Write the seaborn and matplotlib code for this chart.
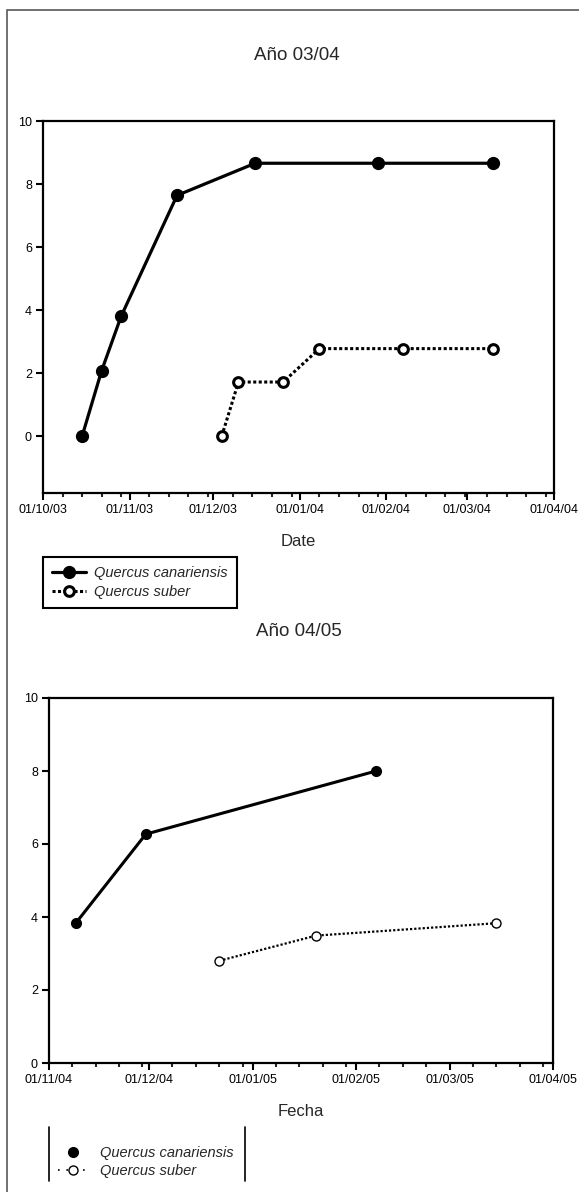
import seaborn as sns
import matplotlib.pyplot as plt
import matplotlib.dates as mdates
from matplotlib.lines import Line2D
from matplotlib.patches import Rectangle
import numpy as np
import pandas as pd

# --- data ---
# Año 03/04
can_0304_dates = ['2003-10-15', '2003-10-22', '2003-10-29', '2003-11-18',
                  '2003-12-16', '2004-01-29', '2004-03-10']
can_0304_vals = [0.0, 2.08, 3.81, 7.64, 8.66, 8.66, 8.66]
sub_0304_dates = ['2003-12-04', '2003-12-10', '2003-12-26', '2004-01-08',
                  '2004-02-07', '2004-03-10']
sub_0304_vals = [0.0, 1.72, 1.72, 2.78, 2.78, 2.78]

# Año 04/05
can_0405_dates = ['2004-11-09', '2004-11-30', '2005-02-07']
can_0405_vals = [3.83, 6.27, 8.0]
sub_0405_dates = ['2004-12-22', '2005-01-20', '2005-03-15']
sub_0405_vals = [2.8, 3.49, 3.83]

species = ['Quercus canariensis', 'Quercus suber']
titles = ['Año 03/04', 'Año 04/05']
xlabels = ['Date', 'Fecha']

sns.set_style('ticks')
plt.rcParams['font.family'] = ['Liberation Sans', 'DejaVu Sans']

W, H = 579, 1192
fig = plt.figure(figsize=(W / 100, H / 100), dpi=100)

def fx(px):
    return px / W

def fy(py):
    return 1 - py / H

ax1 = fig.add_axes([fx(43), fy(493), fx(554 - 43), (493 - 121) / H])
ax2 = fig.add_axes([fx(49), fy(1063), fx(553 - 49), (1063 - 698) / H])

# top panel
sns.lineplot(x=pd.to_datetime(can_0304_dates), y=can_0304_vals, ax=ax1,
             color='black', lw=2.3, marker='o', ms=8.5, mec='black', mew=1)
sns.lineplot(x=pd.to_datetime(sub_0304_dates), y=sub_0304_vals, ax=ax1,
             color='black', lw=2.2, ls=(0, (1, 0.8)), marker='o', ms=7,
             mfc='white', mec='black', mew=2.2)

# bottom panel
sns.lineplot(x=pd.to_datetime(can_0405_dates), y=can_0405_vals, ax=ax2,
             color='black', lw=2.2, marker='o', ms=7, mec='black', mew=1)
sns.lineplot(x=pd.to_datetime(sub_0405_dates), y=sub_0405_vals, ax=ax2,
             color='black', lw=1.6, ls=(0, (1, 0.9)), marker='o', ms=6.5,
             mfc='white', mec='black', mew=1)

ax1.set_xlim(pd.Timestamp('2003-10-01'), pd.Timestamp('2004-04-01'))
ax1.set_ylim(-1.8, 10)
ax2.set_xlim(pd.Timestamp('2004-11-01'), pd.Timestamp('2005-04-01'))
ax2.set_ylim(0, 10)

for ax in (ax1, ax2):
    ax.set_yticks(np.arange(0, 11, 2))
    ax.xaxis.set_major_locator(mdates.MonthLocator())
    ax.xaxis.set_major_formatter(mdates.DateFormatter('%d/%m/%y'))
    ax.xaxis.set_minor_locator(mdates.DayLocator(bymonthday=[8, 15, 22, 29]))
    ax.tick_params(axis='both', which='major', direction='out', length=5,
                   width=1.5, labelsize=9, colors='black', pad=3)
    ax.tick_params(axis='x', which='minor', direction='out', length=3, width=1.5)
    for s in ax.spines.values():
        s.set_visible(True)
        s.set_linewidth(1.6)
        s.set_color('black')
    ax.set_xlabel('')
    ax.set_ylabel('')

# titles and axis labels
fig.text(fx(297), fy(56), titles[0], ha='center', va='center', fontsize=13.5)
fig.text(fx(299), fy(631), titles[1], ha='center', va='center', fontsize=13.5)
fig.text(fx(298), fy(541), xlabels[0], ha='center', va='center', fontsize=12)
fig.text(fx(301), fy(1112), xlabels[1], ha='center', va='center', fontsize=12)

# legend, top panel
h_top = [Line2D([], [], color='black', lw=2.3, marker='o', ms=8.5),
         Line2D([], [], color='black', lw=2.2, ls=(0, (1, 0.8)), marker='o',
                ms=7, mfc='white', mew=2.2)]
leg1 = fig.legend(h_top, species, loc='upper left',
                  bbox_to_anchor=(fx(43), fy(557)), frameon=True,
                  fancybox=False, edgecolor='black', framealpha=1,
                  prop={'style': 'italic', 'size': 10.5},
                  handlelength=2.3, handletextpad=0.55, labelspacing=0.3,
                  borderpad=0.65, borderaxespad=0)
leg1.get_frame().set_linewidth(1.5)

# legend, bottom panel
h_bot = [Line2D([], [], color='black', lw=0, marker='o', ms=7),
         Line2D([], [], color='black', lw=1.2, ls=(0, (1, 4)), marker='o',
                ms=6.5, mfc='white', mew=1)]
fig.legend(h_bot, species, loc='upper left',
           bbox_to_anchor=(fx(58), fy(1146)), frameon=False,
           prop={'style': 'italic', 'size': 10.5},
           handlelength=2.0, handletextpad=0.85, labelspacing=0.3,
           borderpad=0, borderaxespad=0)
for px in (49, 245):
    fig.add_artist(Line2D([fx(px), fx(px)], [fy(1127), fy(1181)],
                          color='black', lw=1.2))

# outer frame of the page
fig.add_artist(Rectangle((fx(7), -0.05), 1.0, fy(10) + 0.05,
                         fill=False, edgecolor='0.35', lw=1.2))

fig.savefig('out.png', dpi=100)
